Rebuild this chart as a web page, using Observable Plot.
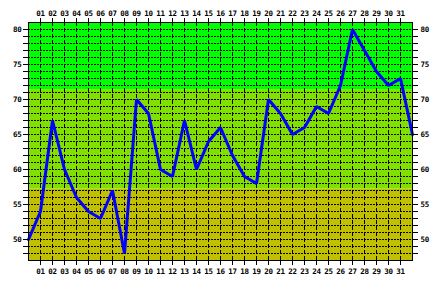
<!DOCTYPE html>
<html>
<head>
<meta charset="utf-8">
<script src="https://cdn.jsdelivr.net/npm/d3@7"></script>
<script src="https://cdn.jsdelivr.net/npm/@observablehq/plot@0.6"></script>
<style>
  html, body { margin: 0; padding: 0; background: #fff; }
  svg text { letter-spacing: -0.3px; }
</style>
</head>
<body>
<div id="chart"></div>
<script>
// Day index positions 0..32 and the readings
const values = [50,54,67,60,56,54,53,57,48,70,68,60,59,67,60,64,66,62,59,58,70,68,65,66,69,68,72,80,77,74,72,73,65];
const dayTicks = [1,2,3,4,5,6,7,8,9,10,11,12,13,14,15,16,17,18,19,20,21,22,23,24,25,26,27,28,29,30,31];
const dayLabels = ["01","02","03","04","05","06","07","08","09","10","11","12","13","14","15","16","17","18","19","20","21","22","23","24","25","26","27","28","29","30","31"];
const yTicks = [48,49,50,51,52,53,54,55,56,57,58,59,60,61,62,63,64,65,66,67,68,69,70,71,72,73,74,75,76,77,78,79,80];
const yLabelTicks = [50,55,60,65,70,75,80];
const bandLow = [47, 57.2, 71.4];
const bandHigh = [57.2, 71.4, 81];
const bandColors = ["#c0c000", "#80e000", "#00ff00"];

const points = values.map((v, i) => ({x: i, y: v}));
const bands = bandLow.map((lo, i) => ({lo, hi: bandHigh[i], c: bandColors[i]}));
const labelOf = new Map(dayTicks.map((d, i) => [d, dayLabels[i]]));

const chart = Plot.plot({
  width: 441,
  height: 283,
  marginLeft: 28,
  marginRight: 29,
  marginTop: 22,
  marginBottom: 23,
  x: {domain: [0, 32]},
  y: {domain: [47, 81]},
  style: {fontFamily: "DejaVu Sans Mono", fontSize: "7.5px", fontWeight: "bold", background: "#fff", color: "#000", overflow: "visible"},
  marks: [
    Plot.rect(bands, {x1: 0, x2: 32, y1: "lo", y2: "hi", fill: "c"}),
    Plot.ruleY(yTicks, {stroke: "#000", strokeWidth: 1, strokeDasharray: "2,1", shapeRendering: "crispEdges"}),
    Plot.ruleX(dayTicks, {stroke: "#000", strokeWidth: 1, strokeDasharray: "4,2", shapeRendering: "crispEdges"}),
    Plot.line(points, {x: "x", y: "y", stroke: "#0000ff", strokeWidth: 3, strokeLinejoin: "miter"}),
    Plot.frame({stroke: "#000", strokeWidth: 1, shapeRendering: "crispEdges"}),
    Plot.axisX(dayTicks, {anchor: "top", tickSize: 5, tickPadding: 2, tickFormat: d => labelOf.get(d), stroke: "#000", strokeOpacity: 1, label: null}),
    Plot.axisX(dayTicks, {anchor: "bottom", tickSize: 5, tickPadding: 3, tickFormat: d => labelOf.get(d), stroke: "#000", strokeOpacity: 1, label: null}),
    Plot.axisY(yTicks, {anchor: "left", tickSize: 5, tickPadding: 2, tickFormat: d => yLabelTicks.includes(d) ? String(d) : "", stroke: "#000", strokeOpacity: 1, label: null}),
    Plot.axisY(yTicks, {anchor: "right", tickSize: 5, tickPadding: 3, tickFormat: d => yLabelTicks.includes(d) ? String(d) : "", stroke: "#000", strokeOpacity: 1, label: null})
  ]
});
document.getElementById("chart").appendChild(chart);
</script>
</body>
</html>
